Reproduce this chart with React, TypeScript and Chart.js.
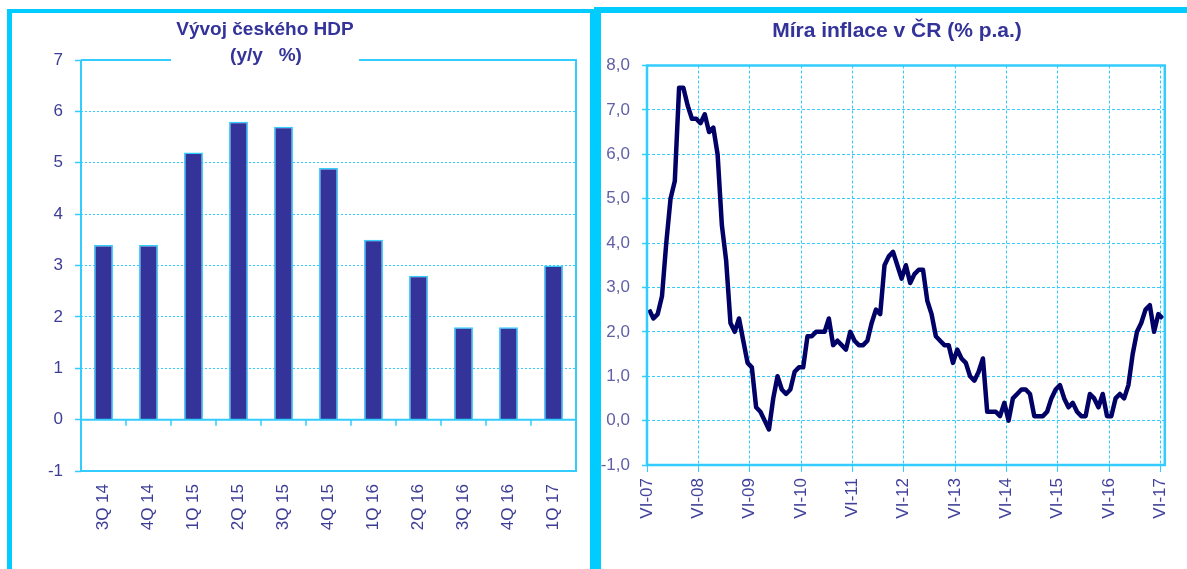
import React, { useEffect, useRef } from 'react';
import { Chart, registerables } from 'chart.js';

Chart.register(...registerables);

const FONT = '"Liberation Sans", Arial, Helvetica, sans-serif';
const PANEL = '#00ccff';
const GRID = '#33ccff';
const TITLE_COLOR = '#333399';

// ---- Left chart: GDP growth (y/y %) ----
const gdpTitle = ['Vývoj českého HDP', '(y/y   %)'];
const gdpQuarters = ['3Q 14', '4Q 14', '1Q 15', '2Q 15', '3Q 15', '4Q 15', '1Q 16', '2Q 16', '3Q 16', '4Q 16', '1Q 17'];
const gdpGrowth = [3.4, 3.4, 5.2, 5.8, 5.7, 4.9, 3.5, 2.8, 1.8, 1.8, 3.0];
const gdpYTickLabels = ['-1', '0', '1', '2', '3', '4', '5', '6', '7'];

// ---- Right chart: CPI inflation (% p.a.), monthly from VI-2007 ----
const inflationTitle = 'Míra inflace v ČR (% p.a.)';
const inflationYearTicks = ['VI-07', 'VI-08', 'VI-09', 'VI-10', 'VI-11', 'VI-12', 'VI-13', 'VI-14', 'VI-15', 'VI-16', 'VI-17'];
const inflationYTickLabels = ['-1,0', '0,0', '1,0', '2,0', '3,0', '4,0', '5,0', '6,0', '7,0', '8,0'];
const infl2007 = [2.5, 2.3, 2.4, 2.8, 4.0, 5.0, 5.4]; // VI-XII
const infl2008 = [7.5, 7.5, 7.1, 6.8, 6.8, 6.7, 6.9, 6.5, 6.6, 6.0, 4.4, 3.6];
const infl2009 = [2.2, 2.0, 2.3, 1.8, 1.3, 1.2, 0.3, 0.2, 0.0, -0.2, 0.5, 1.0];
const infl2010 = [0.7, 0.6, 0.7, 1.1, 1.2, 1.2, 1.9, 1.9, 2.0, 2.0, 2.0, 2.3];
const infl2011 = [1.7, 1.8, 1.7, 1.6, 2.0, 1.8, 1.7, 1.7, 1.8, 2.2, 2.5, 2.4];
const infl2012 = [3.5, 3.7, 3.8, 3.5, 3.2, 3.5, 3.1, 3.3, 3.4, 3.4, 2.7, 2.4];
const infl2013 = [1.9, 1.8, 1.7, 1.7, 1.3, 1.6, 1.4, 1.3, 1.0, 0.9, 1.1, 1.4];
const infl2014 = [0.2, 0.2, 0.2, 0.1, 0.4, 0.0, 0.5, 0.6, 0.7, 0.7, 0.6, 0.1];
const infl2015 = [0.1, 0.1, 0.2, 0.5, 0.7, 0.8, 0.5, 0.3, 0.4, 0.2, 0.1, 0.1];
const infl2016 = [0.6, 0.5, 0.3, 0.6, 0.1, 0.1, 0.5, 0.6, 0.5, 0.8, 1.5, 2.0];
const infl2017 = [2.2, 2.5, 2.6, 2.0, 2.4, 2.3]; // I-VI
const inflation = [
  ...infl2007, ...infl2008, ...infl2009, ...infl2010, ...infl2011, ...infl2012,
  ...infl2013, ...infl2014, ...infl2015, ...infl2016, ...infl2017,
];

// canvas placement on the page
const L = { left: 12, top: 14, width: 578, height: 555 };
const R = { left: 601, top: 13, width: 586, height: 556 };

const gdpDecor = {
  id: 'gdpDecor',
  afterDraw(chart: any) {
    const { ctx, chartArea: a, scales } = chart;
    const y0 = scales.y.getPixelForValue(0);
    const gapL = 171 - L.left;
    const gapR = 359 - L.left;
    ctx.save();
    ctx.setLineDash([]);
    ctx.strokeStyle = GRID;
    ctx.lineWidth = 2;
    ctx.beginPath();
    ctx.moveTo(a.left, a.top);
    ctx.lineTo(gapL, a.top);
    ctx.moveTo(gapR, a.top);
    ctx.lineTo(a.right, a.top);
    ctx.lineTo(a.right, a.bottom);
    ctx.lineTo(a.left, a.bottom);
    ctx.lineTo(a.left, a.top);
    ctx.stroke();
    // zero line
    ctx.beginPath();
    ctx.moveTo(a.left, y0);
    ctx.lineTo(a.right, y0);
    ctx.stroke();
    // category boundary ticks below the zero line
    ctx.lineWidth = 1.5;
    ctx.beginPath();
    for (let i = 1; i < gdpQuarters.length; i++) {
      const x = (scales.x.getPixelForTick(i - 1) + scales.x.getPixelForTick(i)) / 2;
      ctx.moveTo(x, y0);
      ctx.lineTo(x, y0 + 6);
    }
    ctx.stroke();
    // title
    ctx.fillStyle = TITLE_COLOR;
    ctx.font = `bold 19px ${FONT}`;
    ctx.textAlign = 'center';
    ctx.textBaseline = 'middle';
    ctx.fillText(gdpTitle[0], 265 - L.left, 30 - L.top);
    ctx.fillText(gdpTitle[1], 266 - L.left, 56 - L.top);
    ctx.restore();
  },
};

const inflDecor = {
  id: 'inflDecor',
  afterDraw(chart: any) {
    const { ctx, chartArea: a } = chart;
    ctx.save();
    ctx.setLineDash([]);
    ctx.strokeStyle = GRID;
    ctx.lineWidth = 2.5;
    ctx.strokeRect(a.left, a.top, a.right - a.left, a.bottom - a.top);
    ctx.fillStyle = TITLE_COLOR;
    ctx.font = `bold 21px ${FONT}`;
    ctx.textAlign = 'center';
    ctx.textBaseline = 'middle';
    ctx.fillText(inflationTitle, 897 - R.left, 31 - R.top);
    ctx.restore();
  },
};

export default function App() {
  const leftRef = useRef<HTMLCanvasElement>(null);
  const rightRef = useRef<HTMLCanvasElement>(null);

  useEffect(() => {
    const left = new Chart(leftRef.current as HTMLCanvasElement, {
      type: 'bar',
      data: {
        labels: gdpQuarters,
        datasets: [
          {
            data: gdpGrowth,
            backgroundColor: '#333399',
            borderColor: GRID,
            borderWidth: 1.5,
            barPercentage: 0.42,
            categoryPercentage: 1,
          },
        ],
      },
      options: {
        responsive: false,
        animation: false,
        layout: { padding: { top: 60 - L.top, right: L.width - (576 - L.left), left: 0, bottom: 0 } },
        plugins: { legend: { display: false }, tooltip: { enabled: false }, title: { display: false } },
        scales: {
          x: {
            type: 'category',
            offset: true,
            grid: { display: false },
            border: { display: false },
            ticks: {
              autoSkip: false,
              minRotation: 90,
              maxRotation: 90,
              padding: 5,
              color: '#3d3d96',
              font: { family: FONT, size: 17 },
            },
            afterFit: (s: any) => {
              s.height = L.height - (471 - L.top);
            },
          },
          y: {
            min: -1,
            max: 7,
            ticks: {
              stepSize: 1,
              padding: 12,
              color: '#3d3d96',
              font: { family: FONT, size: 17 },
              callback: (_v: any, i: number) => gdpYTickLabels[i],
            },
            grid: {
              color: (c: any) =>
                c.tick && (c.tick.value === 7 || c.tick.value === -1 || c.tick.value === 0) ? 'rgba(0,0,0,0)' : GRID,
              lineWidth: 1,
              drawTicks: true,
              tickLength: 6,
              tickColor: GRID,
              tickWidth: 1.5,
              tickBorderDash: [],
            },
            border: { display: false, dash: [2, 2] },
            afterFit: (s: any) => {
              s.width = 81 - L.left;
            },
          },
        },
      },
      plugins: [gdpDecor],
    } as any);

    const right = new Chart(rightRef.current as HTMLCanvasElement, {
      type: 'line',
      data: {
        datasets: [
          {
            data: inflation.map((v, i) => ({ x: i, y: v })),
            borderColor: '#000066',
            borderWidth: 4.5,
            borderJoinStyle: 'round',
            pointRadius: 0,
            tension: 0,
            fill: false,
          },
        ],
      },
      options: {
        responsive: false,
        animation: false,
        parsing: false,
        layout: { padding: { top: 65.5 - R.top, right: R.width - (1175.5 - R.left), left: 0, bottom: 0 } },
        plugins: { legend: { display: false }, tooltip: { enabled: false }, title: { display: false } },
        scales: {
          x: {
            type: 'linear',
            min: -0.5,
            max: inflation.length - 0.5,
            afterBuildTicks: (s: any) => {
              s.ticks = inflationYearTicks.map((_, k) => ({ value: -0.5 + 12 * k }));
            },
            ticks: {
              autoSkip: false,
              minRotation: 90,
              maxRotation: 90,
              padding: 6,
              color: '#42429c',
              font: { family: FONT, size: 17 },
              callback: (_v: any, i: number) => inflationYearTicks[i],
            },
            grid: {
              color: GRID,
              lineWidth: 1,
              drawTicks: true,
              tickLength: 7,
              tickColor: GRID,
              tickWidth: 1,
              tickBorderDash: [],
            },
            border: { display: false, dash: [3, 2] },
            afterFit: (s: any) => {
              s.height = R.height - (465 - R.top);
            },
          },
          y: {
            min: -1,
            max: 8,
            ticks: {
              stepSize: 1,
              padding: 12,
              color: '#6060a6',
              font: { family: FONT, size: 17 },
              callback: (_v: any, i: number) => inflationYTickLabels[i],
            },
            grid: {
              color: GRID,
              lineWidth: 1,
              drawTicks: true,
              tickLength: 5,
              tickColor: GRID,
              tickWidth: 1.5,
              tickBorderDash: [],
            },
            border: { display: false, dash: [3, 2] },
            afterFit: (s: any) => {
              s.width = 647 - R.left;
            },
          },
        },
      },
      plugins: [inflDecor],
    } as any);

    return () => {
      left.destroy();
      right.destroy();
    };
  }, []);

  return (
    <div
      style={{
        position: 'absolute',
        left: 0,
        top: 0,
        width: 1187,
        height: 569,
        overflow: 'hidden',
        background: '#ffffff',
      }}
    >
      <div
        style={{
          position: 'absolute',
          left: 7,
          top: 9,
          width: 587,
          height: 640,
          boxSizing: 'border-box',
          borderLeft: `5px solid ${PANEL}`,
          borderTop: `4px solid ${PANEL}`,
          borderRight: `4px solid ${PANEL}`,
        }}
      />
      <div
        style={{
          position: 'absolute',
          left: 594,
          top: 7,
          width: 640,
          height: 640,
          boxSizing: 'border-box',
          borderLeft: `7px solid ${PANEL}`,
          borderTop: `6px solid ${PANEL}`,
        }}
      />
      <canvas
        ref={leftRef}
        width={L.width}
        height={L.height}
        style={{ position: 'absolute', left: L.left, top: L.top, width: L.width, height: L.height }}
      />
      <canvas
        ref={rightRef}
        width={R.width}
        height={R.height}
        style={{ position: 'absolute', left: R.left, top: R.top, width: R.width, height: R.height }}
      />
    </div>
  );
}
